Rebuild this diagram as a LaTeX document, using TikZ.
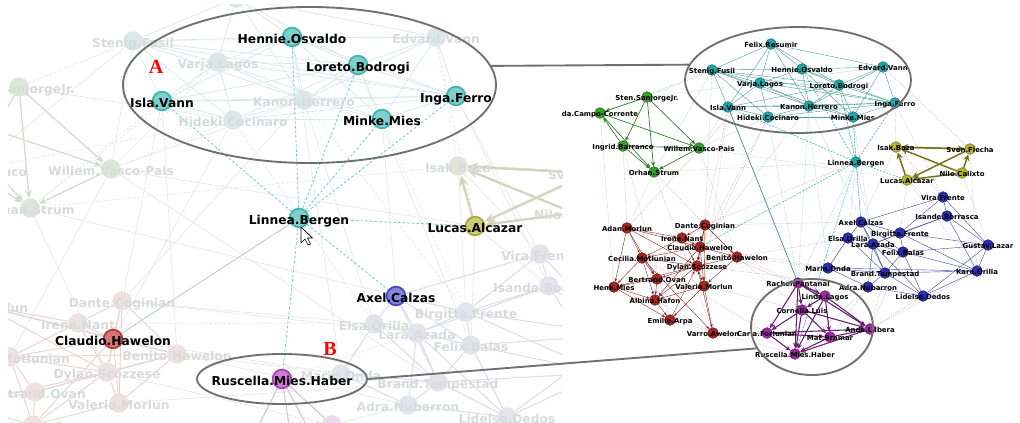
\documentclass[tikz,border=0pt]{standalone}
\usepackage{fontspec}
\setmainfont{DejaVu Sans}
\newfontfamily\abfont{Liberation Serif}
\usetikzlibrary{shapes.geometric,arrows.meta}
% node colours
\definecolor{cT}{HTML}{20A8A8}\definecolor{cG}{HTML}{33A02C}\definecolor{cY}{HTML}{B5B42B}
\definecolor{cR}{HTML}{A82520}\definecolor{cP}{HTML}{9E28A6}\definecolor{cB}{HTML}{2C2CAE}
\definecolor{fT}{HTML}{DCE7E7}\definecolor{fG}{HTML}{DCE5DA}\definecolor{fY}{HTML}{E4E4D8}
\definecolor{fR}{HTML}{EDE1E1}\definecolor{fB}{HTML}{E3E3EE}\definecolor{fP}{HTML}{ECDCEC}
\definecolor{hT}{HTML}{7ECFCB}\definecolor{dT}{HTML}{3FB3AE}
\definecolor{hY}{HTML}{CCCC78}\definecolor{dY}{HTML}{A9A93C}
\definecolor{hB}{HTML}{8484DC}\definecolor{dB}{HTML}{4646C4}
\definecolor{hR}{HTML}{D57676}\definecolor{dR}{HTML}{B53636}
\definecolor{hP}{HTML}{CF7CD6}\definecolor{dP}{HTML}{A540AE}
\definecolor{fadeTxt}{HTML}{D8DBDB}
% edge colours
\definecolor{eT}{HTML}{4A9E9E}\definecolor{eG}{HTML}{2F7A2A}\definecolor{eY}{HTML}{74731A}
\definecolor{eR}{HTML}{8A2626}\definecolor{eP}{HTML}{6A1E70}\definecolor{eB}{HTML}{46469E}
\definecolor{faP}{HTML}{D6B8C0}\definecolor{faT}{HTML}{A8D0D0}\definecolor{faB}{HTML}{C0C0DC}
\definecolor{faG}{HTML}{C4D8BC}\definecolor{faK}{HTML}{C8C8C8}
\definecolor{lT}{HTML}{D4E8E7}\definecolor{lG}{HTML}{CFDCCB}\definecolor{lY}{HTML}{D4D4C2}
\definecolor{lR}{HTML}{E6D4D4}\definecolor{lB}{HTML}{DADAE8}\definecolor{lP}{HTML}{DCC4DC}
\definecolor{lK}{HTML}{E6E6E6}
\definecolor{hiTeal}{HTML}{6CC8C8}\definecolor{hiRed}{HTML}{E8A0A0}\definecolor{hiTeal2}{HTML}{8ED4D4}
\definecolor{ellC}{HTML}{707070}

\tikzset{
  hid/.style={circle, inner sep=0pt, minimum size=#1},
  rdot/.style={circle, inner sep=0pt, minimum size=8pt, line width=0.4pt},
  rlbl/.style={font=\fontsize{5.2}{6}\selectfont\bfseries, text=black, inner sep=0pt, anchor=base},
  ldot/.style={circle, inner sep=0pt, minimum size=14.5pt},
  hdot/.style={circle, inner sep=0pt, minimum size=14pt, line width=1.3pt},
  llbl/.style={font=\fontsize{9.2}{11}\selectfont\bfseries, inner sep=0pt, anchor=base},
  rTe/.style={draw=eT, line width=0.3pt},
  rTd/.style={draw=cT, line width=0.35pt, dash pattern=on 1.5pt off 1pt},
  rGe/.style={draw=eG, line width=0.5pt, -{Stealth[length=3.5pt,width=3pt]}},
  rYe/.style={draw=eY, line width=1.1pt, -{Stealth[length=5pt,width=5pt]}},
  rRe/.style={draw=eR, line width=0.3pt, -{Stealth[length=2.5pt,width=2pt]}},
  rPe/.style={draw=eP, line width=0.8pt, -{Stealth[length=4pt,width=3.5pt]}},
  rBe/.style={draw=eB, line width=0.3pt},
  rFa/.style={line width=0.3pt, dash pattern=on 1.2pt off 0.8pt},
  lTe/.style={draw=lT, line width=0.5pt},
  lGe/.style={draw=lG, line width=0.9pt, -{Stealth[length=6pt,width=5pt]}},
  lYe/.style={draw=lY, line width=1.8pt, -{Stealth[length=8pt,width=7pt]}},
  lRe/.style={draw=lR, line width=0.7pt},
  lBe/.style={draw=lB, line width=0.7pt},
  lPe/.style={draw=lP, line width=0.9pt},
  lKe/.style={draw=lK, line width=0.45pt},
  lKd/.style={draw=lK, line width=0.45pt, dash pattern=on 2pt off 1.5pt},
  hiE/.style={draw=hiTeal, line width=0.55pt, dash pattern=on 2pt off 1.5pt},
  zoomell/.style={ellipse, draw=ellC, line width=1.4pt, inner sep=0pt},
  conn/.style={draw=ellC, line width=1.4pt},
  letter/.style={text=red, font=\abfont\bfseries\fontsize{15}{15}\selectfont, inner sep=0pt}
}

\def\rnodes{FR/771/44/cT/Felix.Resumir,SF/712/70/cT/Stenig.Fusil,HO/802/69/cT/Hennie.Osvaldo,%
EV/883/67/cT/Edvard.Vann,VL/760/83/cT/Varja.Lagos,LB/839/85/cT/Loreto.Bodrogi,%
IV/728/107/cT/Isla.Vann,KH/809/106/cT/Kanon.Herrero,IF/895/103/cT/Inga.Ferro,%
HC/768/117/cT/Hideki.Cocinaro,MM/853/117/cT/Minke.Mies,LN/856/162/cT/Linnea.Bergen,%
SJ/647/97/cG/Sten.SanjorgeJr.,CC/600/113/cG/da.Campo-Corrente,IB/623/146/cG/Ingrid.Barranco,%
WV/699/148/cG/Willem.Vasco-Pais,OS/654/172/cG/Orhan.Strum,%
IZ/896/147/cY/Isak.Baza,SvF/970/149/cY/Sven.Flecha,NC/962/173/cY/Nilo.Calixto,LA/907/180/cY/Lucas.Alcazar,%
AM/627/228/cR/Adan.Morlun,DC/705/225/cR/Dante.Coginian,IN/682/238/cR/Irene.Nant,%
CH/700/247/cR/Claudio.Hawelon,BH/737/257/cR/Benito.Hawelon,CM/642/258/cR/Cecilia.Motlunian,%
DS/697/266/cR/Dylan.Scozzese,BO/657/279/cR/Bertrand.Ovan,VM/704/286/cR/Valeria.Morlun,%
HM/614/287/cR/Henk.Mies,AH/655/300/cR/Albina.Hafon,EA/670/320/cR/Emilie.Arpa,VA/713/333/cR/Varro.Awelon,%
RP/798/283/cP/Rachel.Pantanal,LL/825/296/cP/Linda.Lagos,CL/802/310/cP/Cornelia.Luis,%
CF/767/333/cP/Carla.Forlunian,MB/830/337/cP/Mat.Bramar,AL/870/329/cP/Anda.Lilbera,%
RMH/795/354/cP/Ruscella.Mies.Haber,%
VF/943/197/cB/Vira.Frente,ISB/947/216/cB/Isande.Borrasca,AC/861/222/cB/Axel.Calzas,%
BF/900/233/cB/Birgitta.Frente,EO/848/238/cB/Elsa.Orilla,LZ/873/244/cB/Lara.Azada,%
GL/988/245/cB/Gustav.Lazar,FB/903/252/cB/Felix.Balas,MO/828/268/cB/Marin.Onda,%
BT/885/273/cB/Brand.Tempestad,KO/977/271/cB/Kare.Orilla,AN/868/287/cB/Adra.Nubarron,%
LD/923/296/cB/Lidelse.Dedos}

\def\lfnodes{FR/236/-2/fT/Felix.Resumir,SF/133/41/fT/Stenig.Fusil,VL/218/62/fT/Varja.Lagos,%
KH/304/100/fT/Kanon.Herrero,HC/233/120/fT/Hideki.Cocinaro,EV/436/37/fT/Edvard.Vann,%
SJ/19/87/fG/Sten.SanjorgeJr.,WV/111/169/fG/Willem.Vasco-Pais,IB/-27/170/fG/Ingrid.Barranco,%
OS/30/208/fG/Orhan.Strum,CC/-63/111/fG/da.Campo-Corrente,%
IZ/458/166/fY/Isak.Baza,SvF/590/173/fY/Sven.Flecha,NC/574/213/fY/Nilo.Calixto,%
DC/122/301/fR/Dante.Coginian,IN/78/323/fR/Irene.Nant,BH/177/354/fR/Benito.Hawelon,%
DS/107/372/fR/Dylan.Scozzese,BO/35/392/fR/Bertrand.Ovan,VM/119/403/fR/Valeria.Morlun,%
CM/10/357/fR/Cecilia.Motlunian,AM/-16/306/fR/Adan.Morlun,AH/33/425/fR/Albina.Hafon,HM/-39/405/fR/Henk.Mies,%
VF/540/254/fB/Vira.Frente,ISB/549/286/fB/Isande.Borrasca,BF/466/312/fB/Birgitta.Frente,%
EO/374/324/fB/Elsa.Orilla,LZ/417/333/fB/Lara.Azada,FB/471/345/fB/Felix.Balas,%
MO/341/374/fB/Marin.Onda,BT/438/382/fB/Brand.Tempestad,AN/408/405/fB/Adra.Nubarron,%
LD/507/417/fB/Lidelse.Dedos,GL/619/335/fB/Gustav.Lazar,KO/603/373/fB/Kare.Orilla,%
LL/332/425/fP/Linda.Lagos,CL/292/444/fP/Cornelia.Luis,CF/230/483/fP/Carla.Forlunian,MB/341/490/fP/Mat.Bramar}

\def\lhnodes{HO/292/37/hT/dT/Hennie.Osvaldo,LB/358/65/hT/dT/Loreto.Bodrogi,IV/162/101/hT/dT/Isla.Vann,%
IF/456/96/hT/dT/Inga.Ferro,MM/382/119/hT/dT/Minke.Mies,LN/299/218/hT/dT/Linnea.Bergen,%
LA/475/226/hY/dY/Lucas.Alcazar,AC/396/296/hB/dB/Axel.Calzas,CH/113/339/hR/dR/Claudio.Hawelon,%
RMH/282/379/hP/dP/Ruscella.Mies.Haber}

\begin{document}
\begin{tikzpicture}[x=0.75pt,y=-0.75pt]
\useasboundingbox (0,0) rectangle (1020,422);
\fill[white] (0,0) rectangle (1020,422);

% ================= LEFT (zoomed) PANEL =================
\begin{scope}
\clip (8,4) rectangle (562,422);
\foreach \id/\x/\y/\c/\t in \lfnodes {\node[hid=14.5pt] (L\id) at (\x,\y) {};}
\foreach \id/\x/\y/\c/\d/\t in \lhnodes {\node[hid=15pt] (L\id) at (\x,\y) {};}
% faint inter-cluster lines
\foreach \a/\b in {SJ/HC,SF/WV,IV/DC,HC/CH,KH/DC,HO/MO,IF/VF,MM/AC,
  LB/FB,WV/LA,OS/BF,DC/EO,BH/MO,DS/LL,VM/BT,LL/AN,RMH/BT,IZ/BF,LA/FB,LA/ISB,WV/KH,
  OS/DS,CM/WV,DC/LZ,BH/AN,CH/MO,IF/ISB,IZ/VF,IV/BH,WV/BT,SF/IB,KH/EO}
  \draw[lKe] (L\a) -- (L\b);
\foreach \a/\b in {SJ/SF,IV/OS,HC/WV,VL/OS,KH/BF,EV/IZ,OS/IZ,IN/EO,RMH/LZ,IB/HC,SF/EV,MM/BF,EV/LA,HC/EO,VL/WV}
  \draw[lKd] (L\a) -- (L\b);
% teal cluster (faded)
\foreach \a/\b in {SF/VL,SF/HO,SF/LB,SF/KH,SF/IF,SF/IV,SF/HC,FR/SF,FR/HO,FR/VL,FR/EV,FR/KH,FR/LB,VL/HO,VL/KH,
  VL/LB,VL/IF,VL/MM,VL/IV,VL/HC,HO/EV,HO/KH,HO/IF,HO/LB,HO/MM,HO/IV,LB/EV,LB/IF,LB/KH,LB/MM,LB/IV,LB/HC,
  IV/KH,IV/HC,IV/IF,KH/IF,KH/MM,KH/HC,KH/EV,HC/MM,HC/IF,EV/IF,EV/MM,MM/IF}
  \draw[lTe] (L\a) -- (L\b);
\foreach \a/\b in {SJ/WV,SJ/OS,CC/WV,IB/OS,WV/OS,SJ/IB,IB/CC,SJ/CC,CC/OS}
  \draw[lGe] (L\a) -- (L\b);
\foreach \a/\b in {IZ/SvF,SvF/IZ,NC/IZ,LA/IZ,NC/LA,SvF/LA,NC/SvF}
  \draw[lYe] (L\a) -- (L\b);
\foreach \a/\b in {AM/CM,AM/DS,AM/IN,AM/CH,DC/IN,DC/CH,DC/DS,DC/BH,DC/VM,IN/CH,IN/CM,IN/DS,CH/BH,CH/DS,CH/CM,
  CH/VM,CH/AH,BH/DS,BH/VM,CM/DS,CM/HM,CM/BO,CM/AH,DS/VM,DS/BO,DS/AH,DS/HM,BO/HM,BO/AH,VM/AH,HM/AH,CM/BH,BO/BH,AM/BH}
  \draw[lRe] (L\a) -- (L\b);
\foreach \a/\b in {VF/ISB,VF/AC,VF/BF,VF/GL,ISB/BF,ISB/GL,ISB/KO,ISB/LZ,AC/EO,AC/LZ,AC/BF,AC/FB,AC/BT,BF/LZ,
  BF/FB,BF/GL,BF/KO,EO/LZ,EO/MO,EO/BT,LZ/FB,LZ/BT,LZ/AN,LZ/LD,FB/BT,FB/GL,FB/KO,FB/LD,MO/BT,MO/AN,BT/KO,BT/AN,
  BT/LD,KO/LD,AN/LD,GL/LD}
  \draw[lBe] (L\a) -- (L\b);
\foreach \a/\b in {RMH/LL,RMH/CL,RMH/CF,RMH/MB,LL/CL,LL/MB}
  \draw[lPe] (L\a) -- (L\b);
% highlighted connections of Linnea.Bergen
\foreach \b in {HO,LB,MM,IF,IV,LA,AC,RMH}
  \draw[hiE] (LLN) -- (L\b);
\draw[draw=hiRed, line width=0.5pt, dash pattern=on 1.5pt off 1.5pt] (LCH) -- (LLN);
\draw[draw=hiTeal2, line width=0.5pt, dash pattern=on 1.5pt off 1.5pt, dash phase=1.5pt] (LCH) -- (LLN);
% nodes
\foreach \id/\x/\y/\c/\t in \lfnodes {\node[ldot, fill=\c] (L\id-v) at (L\id) {};}
\foreach \id/\x/\y/\c/\t in \lfnodes {\node[llbl, text=fadeTxt] (L\id-t) at (\x,\y+6.5) {\t};}
\foreach \id/\x/\y/\c/\d/\t in \lhnodes {\node[hdot, fill=\c, draw=\d] (L\id-v) at (L\id) {};}
\foreach \id/\x/\y/\c/\d/\t in \lhnodes {\node[llbl, text=black] (L\id-t) at (\x,\y+6.5) {\t};}
% mouse cursor
\draw[fill=white, draw=black, line width=0.5pt, line join=round, shift={(301,227)}]
  (0,0) -- (0,16) -- (4,12) -- (7,18) -- (9.5,17) -- (6.5,11) -- (11.5,11) -- cycle;
\end{scope}

% ================= RIGHT (overview) PANEL =================
\foreach \id/\x/\y/\c/\t in \rnodes {\node[hid=8pt] (R\id) at (\x,\y) {};}
% faint inter-cluster lines
\foreach \a/\b/\c in {SF/OS/faT,SF/CC/faT,SJ/SF/faG,WV/IV/faG,WV/HC/faG,OS/LN/faG,WV/LA/faG,IB/AM/faP,
  OS/DC/faP,CC/HM/faP,SJ/EV/faT,HC/CH/faP,HC/DS/faP,KH/BT/faB,KH/RP/faT,VL/AM/faP,IV/DS/faP,MM/AC/faT,
  IF/VF/faB,IF/IZ/faT,EV/SvF/faT,LB/LZ/faB,HO/MO/faT,LN/EO/faT,LN/RP/faT,LA/ISB/faB,LA/BF/faB,IZ/VF/faB,
  NC/GL/faB,SvF/KO/faB,BH/MO/faP,BH/RP/faP,DC/AC/faP,DC/LN/faP,VA/CF/faP,EA/RMH/faP,VM/CL/faP,AM/OS/faG,
  CH/MO/faP,DS/AN/faP,BH/EO/faP,CM/CF/faP,AH/VA/faP,RP/EO/faB,LL/AN/faB,AL/LD/faB,AL/BT/faB,MB/AN/faB,
  RMH/AN/faB,CL/BH/faP,IN/LL/faP,EO/CL/faB,FB/AL/faB,KO/AL/faB,OS/VA/faK,IB/EA/faK,WV/BH/faK,HC/RP/faT,
  MM/LZ/faT,KH/CH/faK,SF/DC/faK,IV/VM/faK,LA/KO/faK,IZ/AC/faK}
  \draw[rFa, draw=\c] (R\a) -- (R\b);
\draw[draw=eT!85!black, line width=0.5pt] (RIV) -- (RRP);
\foreach \a/\b in {FR/SF,FR/HO,FR/VL,FR/EV,FR/LB,FR/KH,FR/IV,SF/HO,SF/VL,SF/IV,SF/KH,SF/LB,SF/IF,SF/HC,HO/EV,
  HO/VL,HO/LB,HO/KH,HO/IF,HO/MM,EV/LB,EV/IF,EV/KH,EV/MM,VL/LB,VL/IV,VL/KH,VL/HC,VL/IF,LB/KH,LB/IF,LB/MM,LB/IV,
  IV/KH,IV/HC,KH/HC,KH/MM,KH/IF,HC/MM,MM/IF,IV/IF,SF/MM,HC/IF}
  \draw[rTe] (R\a) -- (R\b);
\foreach \b in {HO,LB,MM,IF,IV,LA,AC,RMH,CH}
  \draw[rTd] (RLN) -- (R\b);
\foreach \a/\b in {SJ/CC,SJ/IB,SJ/OS,SJ/WV,CC/WV,IB/CC,CC/OS,IB/OS,WV/OS,IB/WV}
  \draw[rGe] (R\a) -- (R\b);
\foreach \a/\b in {IZ/SvF,SvF/IZ,NC/IZ,LA/IZ,NC/LA,SvF/LA,NC/SvF}
  \draw[rYe] (R\a) -- (R\b);
\foreach \a/\b in {AM/CM,AM/HM,AM/DS,AM/IN,AM/CH,AM/BO,DC/IN,DC/CH,DC/DS,DC/BH,DC/VM,IN/CH,IN/CM,IN/DS,CH/BH,
  CH/DS,CH/CM,CH/VM,CH/AH,BH/DS,BH/VM,CM/DS,CM/HM,CM/BO,CM/AH,DS/VM,DS/BO,DS/AH,DS/HM,BO/HM,BO/AH,VM/AH,VM/EA,
  VM/VA,HM/AH,AH/EA,EA/DS,VA/DS,HM/EA,CM/VA}
  \draw[rRe] (R\a) -- (R\b);
\foreach \a/\b in {RP/LL,LL/RP,RP/CL,RP/CF,RP/RMH,RP/AL,LL/CL,LL/MB,LL/AL,LL/RMH,CL/CF,CL/MB,CL/RMH,CF/RMH,
  CF/MB,MB/AL,MB/RMH,AL/RMH,CF/AL,CL/AL}
  \draw[rPe] (R\a) -- (R\b);
\foreach \a/\b in {VF/ISB,VF/AC,VF/BF,VF/GL,ISB/BF,ISB/GL,ISB/KO,ISB/LZ,AC/EO,AC/LZ,AC/BF,AC/FB,AC/BT,BF/LZ,
  BF/FB,BF/GL,BF/KO,EO/LZ,EO/MO,EO/BT,LZ/FB,LZ/BT,LZ/AN,LZ/LD,FB/BT,FB/GL,FB/KO,FB/LD,MO/BT,MO/AN,BT/KO,BT/AN,
  BT/LD,KO/LD,KO/GL,AN/LD,GL/LD,MO/KO}
  \draw[rBe] (R\a) -- (R\b);
\foreach \id/\x/\y/\c/\t in \rnodes {\node[rdot, fill=\c, draw=\c!65!black] (R\id-v) at (R\id) {};}
\foreach \id/\x/\y/\c/\t in \rnodes {\node[rlbl] (R\id-t) at (\x,\y+3.5) {\t};}

% ================= zoom ellipses and connectors =================
\node[zoomell, minimum width=279.75pt, minimum height=117pt] (eA) at (309.5,85) {};
\node[zoomell, minimum width=127.5pt, minimum height=37.5pt] (eB) at (282,379) {};
\node[zoomell, minimum width=169.5pt, minimum height=79.5pt] (eT) at (798,80) {};
\node[zoomell, minimum width=91.5pt, minimum height=72pt] (eP) at (812,327) {};
\draw[conn] (eA.6) -- (eT.172);
\draw[conn] (eB.east) -- (eP.201);
\node[letter] (lA) at (156,67) {A};
\node[letter] (lB) at (330,349) {B};
\end{tikzpicture}
\end{document}
